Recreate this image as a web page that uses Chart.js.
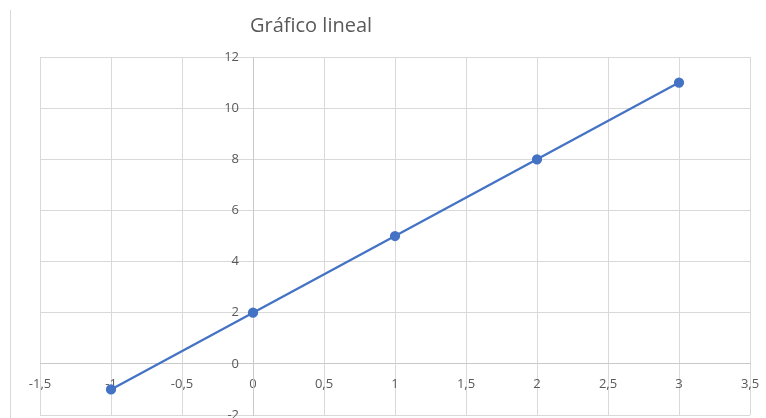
<!DOCTYPE html>
<html>
<head>
<meta charset="utf-8">
<script src="https://cdn.jsdelivr.net/npm/chart.js@4.4.0/dist/chart.umd.min.js"></script>
<style>
  html, body { margin: 0; padding: 0; background: #fff; }
  .wrap { position: relative; width: 766px; height: 418px; overflow: hidden; }
  .frame { position: absolute; left: 10px; top: 10px; width: 1px; height: 408px; background: #d9d9d9; }
  canvas { position: absolute; left: 0; top: 0; }
</style>
</head>
<body>
<div class="wrap">
  <div class="frame"></div>
  <canvas class="js-chart" width="766" height="418"></canvas>
</div>
<script>
const TITLE = 'Gráfico lineal';
const xValues = [-1, 0, 1, 2, 3];
const yValues = [-1, 2, 5, 8, 11];
const xTicks = [-1.5, -1, -0.5, 0, 0.5, 1, 1.5, 2, 2.5, 3, 3.5];
const yTicks = [-2, 0, 2, 4, 6, 8, 10, 12];

const TEXT_COLOR = '#595959';
const GRID_COLOR = '#d9d9d9';
const LINE_COLOR = '#4472c4';
const FONT = "'Open Sans', 'Noto Sans', sans-serif";
const Y_LABEL_GAP = 14;

const ctx = document.querySelector('.js-chart').getContext('2d');

// title drawn by hand, Excel puts it off-centre here
const titlePlugin = {
  id: 'excelTitle',
  afterDraw(chart) {
    const c = chart.ctx;
    c.save();
    c.fillStyle = TEXT_COLOR;
    c.font = "20px " + FONT;
    c.textAlign = 'center';
    c.textBaseline = 'middle';
    c.fillText(TITLE, 311, 26);
    c.restore();
  },
};

// y labels of an axis placed at x=0 sit on the line, push them left a bit
const yLabelGap = {
  id: 'yLabelGap',
  beforeDraw(chart) {
    const items = chart.scales.y.getLabelItems(chart.chartArea);
    items.forEach(item => {
      if (!item._shifted) {
        item.options.translation[0] -= Y_LABEL_GAP;
        item._shifted = true;
      }
    });
  },
};

const points = xValues.map((x, i) => ({ x, y: yValues[i] }));

function fmt(value) {
  return String(value).replace('.', ',');
}

function noPadding(scale) {
  scale.paddingTop = 0;
  scale.paddingBottom = 0;
  scale.paddingLeft = 0;
  scale.paddingRight = 0;
}

new Chart(ctx, {
  type: 'scatter',
  data: {
    datasets: [
      {
        data: points,
        showLine: true,
        borderColor: LINE_COLOR,
        backgroundColor: LINE_COLOR,
        borderWidth: 2.25,
        pointRadius: 4,
        pointHoverRadius: 4,
      },
    ],
  },
  options: {
    responsive: false,
    animation: false,
    devicePixelRatio: 1,
    layout: { autoPadding: false, padding: { left: 40, right: 16, top: 57, bottom: 3 } },
    plugins: {
      legend: { display: false },
      title: { display: false },
      tooltip: { enabled: false },
    },
    scales: {
      x: {
        type: 'linear',
        position: { y: 0 },
        min: xTicks[0],
        max: xTicks[xTicks.length - 1],
        afterBuildTicks(scale) {
          scale.ticks = xTicks.map(v => ({ value: v }));
        },
        afterFit: noPadding,
        grid: { color: GRID_COLOR, drawTicks: false },
        border: { color: '#c8c8c8' },
        ticks: {
          autoSkip: false,
          maxRotation: 0,
          padding: 13,
          color: TEXT_COLOR,
          font: { family: FONT, size: 13 },
          callback: value => fmt(value),
        },
      },
      y: {
        type: 'linear',
        position: { x: 0 },
        min: yTicks[0],
        max: yTicks[yTicks.length - 1],
        afterBuildTicks(scale) {
          scale.ticks = yTicks.map(v => ({ value: v }));
        },
        afterFit: noPadding,
        grid: { color: GRID_COLOR, drawTicks: false },
        border: { color: '#c8c8c8' },
        ticks: {
          autoSkip: false,
          color: TEXT_COLOR,
          font: { family: FONT, size: 13 },
          callback: value => fmt(value),
        },
      },
    },
  },
  plugins: [titlePlugin, yLabelGap],
});
</script>
</body>
</html>
